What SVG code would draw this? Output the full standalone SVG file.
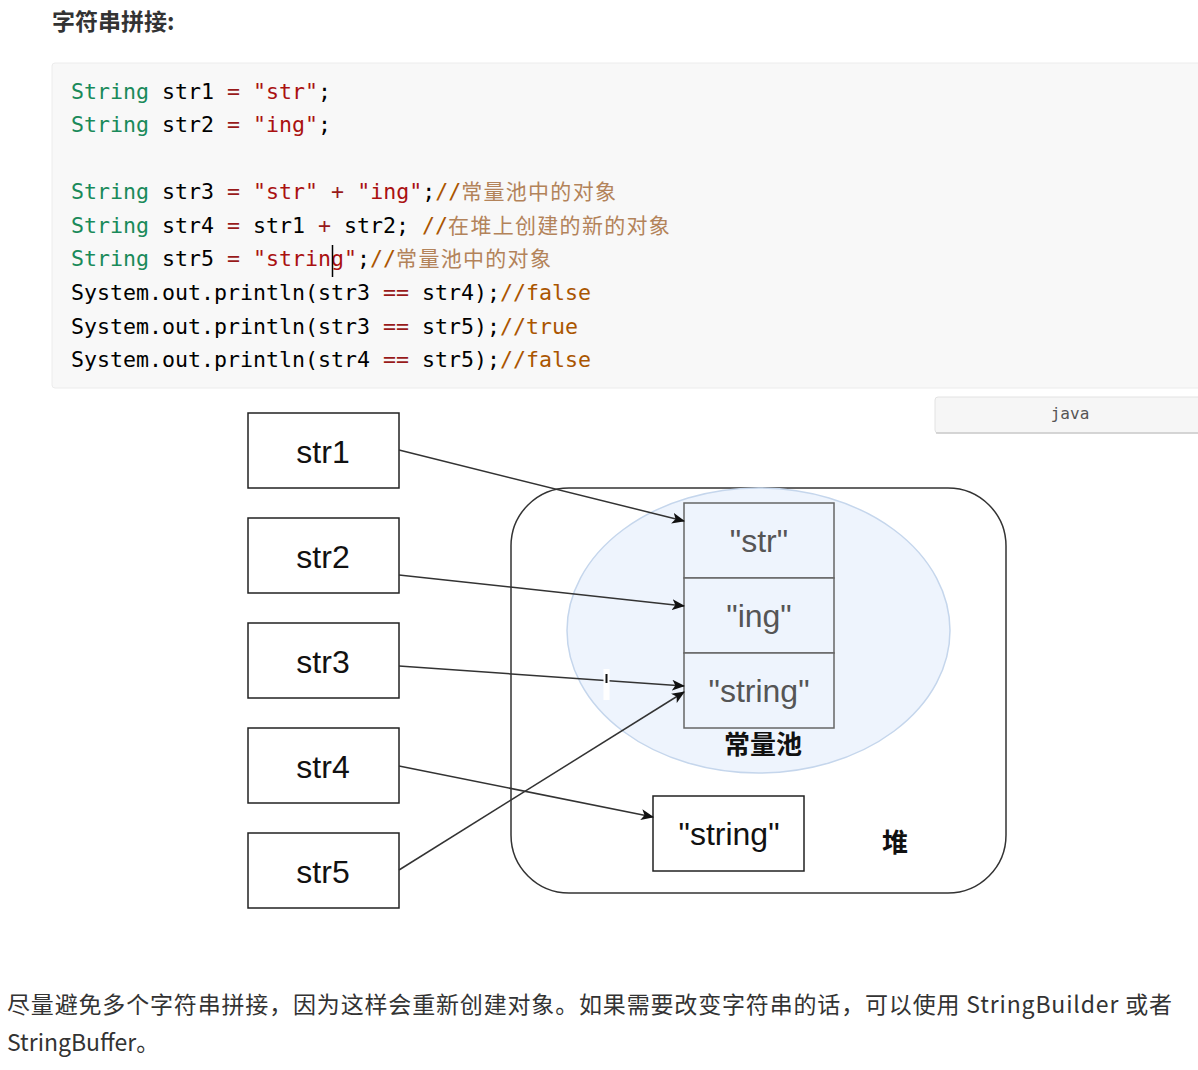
<svg xmlns="http://www.w3.org/2000/svg" width="1198" height="1070" viewBox="0 0 1198 1070">
<defs>
<style>
.code{font-family:"DejaVu Sans Mono","Liberation Mono",monospace;font-size:21.6px;fill:#000;white-space:pre}
.kw{fill:#1a8a5a}
.str{fill:#aa1111}
.op{fill:#981a1a}
.cm{fill:#aa5500}
.cmz{font-family:"Noto Sans CJK SC",sans-serif;font-size:21px;fill:#b3835a;letter-spacing:1.3px}
.box{fill:#fff;stroke:#222;stroke-width:1.5}
.pbox{fill:#eef4fd;stroke:#666;stroke-width:1.5}
.lbl{font-family:"Liberation Sans",Arial,sans-serif;font-size:32px;fill:#111;text-anchor:middle}
.plbl{font-family:"Liberation Sans",Arial,sans-serif;font-size:32px;fill:#555;text-anchor:middle}
.zh{font-family:"Noto Sans CJK SC",sans-serif;font-size:26px;font-weight:bold;fill:#111;text-anchor:middle}
.conn{fill:none;stroke:#333;stroke-width:1.5}
</style>
<marker id="ah" viewBox="0 0 12 10" refX="11" refY="5" markerWidth="13" markerHeight="11" markerUnits="userSpaceOnUse" orient="auto">
<path d="M0,0 L12,5 L0,10 L3,5 Z" fill="#111"/>
</marker>
</defs>
<rect width="1198" height="1070" fill="#fff"/>
<text x="52" y="30" font-family="Noto Sans CJK SC,sans-serif" font-size="23" font-weight="bold" fill="#333">字符串拼接:</text>
<g id="code">
<rect x="52" y="63" width="1150" height="325" rx="3" fill="#f8f8f8" stroke="#ececec"/>
<text class="code" x="71" y="99"><tspan class="kw">String</tspan> str1 <tspan class="op">=</tspan> <tspan class="str">"str"</tspan>;</text>
<text class="code" x="71" y="132"><tspan class="kw">String</tspan> str2 <tspan class="op">=</tspan> <tspan class="str">"ing"</tspan>;</text>
<text class="code" x="71" y="199"><tspan class="kw">String</tspan> str3 <tspan class="op">=</tspan> <tspan class="str">"str"</tspan> <tspan class="op">+</tspan> <tspan class="str">"ing"</tspan>;<tspan class="cm">//</tspan><tspan class="cmz">常量池中的对象</tspan></text>
<text class="code" x="71" y="233"><tspan class="kw">String</tspan> str4 <tspan class="op">=</tspan> str1 <tspan class="op">+</tspan> str2; <tspan class="cm">//</tspan><tspan class="cmz">在堆上创建的新的对象</tspan></text>
<text class="code" x="71" y="266"><tspan class="kw">String</tspan> str5 <tspan class="op">=</tspan> <tspan class="str">"string"</tspan>;<tspan class="cm">//</tspan><tspan class="cmz">常量池中的对象</tspan></text>
<line x1="332.5" y1="245" x2="332.5" y2="277" stroke="#000" stroke-width="1.5"/>
<text class="code" x="71" y="300">System.out.println(str3 <tspan class="op">==</tspan> str4);<tspan class="cm">//false</tspan></text>
<text class="code" x="71" y="334">System.out.println(str3 <tspan class="op">==</tspan> str5);<tspan class="cm">//true</tspan></text>
<text class="code" x="71" y="367">System.out.println(str4 <tspan class="op">==</tspan> str5);<tspan class="cm">//false</tspan></text>
</g>
<g id="lang">
<rect x="935" y="397" width="268" height="36" rx="3" fill="#f6f6f6" stroke="#e2e2e2"/>
<line x1="936" y1="433" x2="1198" y2="433" stroke="#ccc" stroke-width="1.5"/>
<text x="1070" y="419" font-family="DejaVu Sans Mono,monospace" font-size="16" fill="#555" text-anchor="middle">java</text>
</g>
<g id="heap">
<rect x="511" y="488" width="495" height="405" rx="58" fill="#fff" stroke="#333" stroke-width="1.5"/>
<text class="zh" x="895" y="852">堆</text>
</g>
<g id="pool">
<ellipse cx="758.5" cy="630.5" rx="191.5" ry="142.5" fill="#eef4fd" stroke="#c5d6ec" stroke-width="1.5"/>
<text class="zh" x="763" y="754" font-weight="600">常量池</text>
</g>
<g id="pool-str">
<rect class="pbox" x="684" y="503" width="150" height="75"/>
<text class="plbl" x="759" y="552">"str"</text>
</g>
<g id="pool-ing">
<rect class="pbox" x="684" y="578" width="150" height="75"/>
<text class="plbl" x="759" y="627">"ing"</text>
</g>
<g id="pool-string">
<rect class="pbox" x="684" y="653" width="150" height="75"/>
<text class="plbl" x="759" y="702">"string"</text>
</g>
<g id="heap-string">
<rect class="box" x="653" y="796" width="151" height="75"/>
<text class="lbl" x="729" y="845">"string"</text>
</g>
<g id="str1"><rect class="box" x="248" y="413" width="151" height="75"/><text class="lbl" x="323" y="463">str1</text></g>
<g id="str2"><rect class="box" x="248" y="518" width="151" height="75"/><text class="lbl" x="323" y="568">str2</text></g>
<g id="str3"><rect class="box" x="248" y="623" width="151" height="75"/><text class="lbl" x="323" y="673">str3</text></g>
<g id="str4"><rect class="box" x="248" y="728" width="151" height="75"/><text class="lbl" x="323" y="778">str4</text></g>
<g id="str5"><rect class="box" x="248" y="833" width="151" height="75"/><text class="lbl" x="323" y="883">str5</text></g>
<g id="connectors">
<line class="conn" x1="399" y1="450" x2="684" y2="521" marker-end="url(#ah)"/>
<line class="conn" x1="399" y1="575" x2="684" y2="606" marker-end="url(#ah)"/>
<line class="conn" x1="399" y1="666" x2="684" y2="686" marker-end="url(#ah)"/>
<line class="conn" x1="399" y1="766" x2="653" y2="817" marker-end="url(#ah)"/>
<line class="conn" x1="399" y1="870" x2="684" y2="692" stroke="#777" stroke-width="1.2" marker-end="url(#ah)"/>
<rect x="603.5" y="669" width="6" height="31" fill="#fff"/>
<line x1="606.5" y1="674" x2="606.5" y2="683" stroke="#111" stroke-width="2"/>
</g>
<g id="para" font-family="Noto Sans CJK SC,sans-serif" font-size="23" fill="#333">
<text x="7" y="1013" textLength="1165" lengthAdjust="spacing">尽量避免多个字符串拼接，因为这样会重新创建对象。如果需要改变字符串的话，可以使用 StringBuilder 或者</text>
<text x="7" y="1051">StringBuffer。</text>
</g>
</svg>
